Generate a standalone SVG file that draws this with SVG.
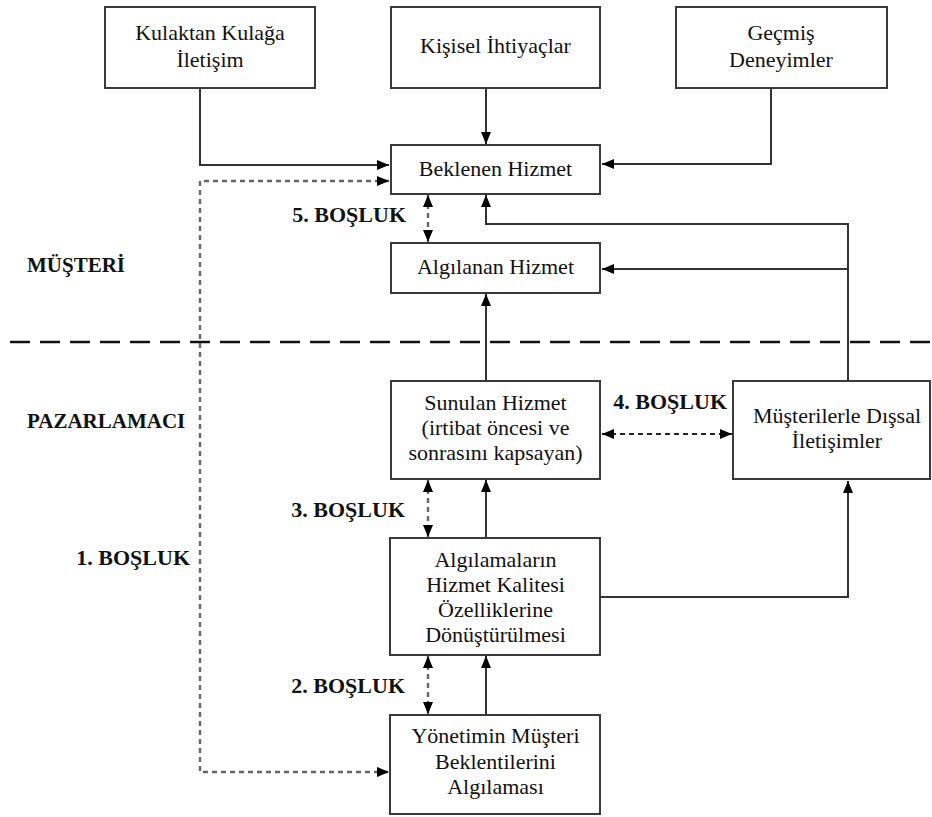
<svg xmlns="http://www.w3.org/2000/svg" width="932" height="817" viewBox="0 0 932 817">
<style>
  .box { fill: #fff; stroke: #3a3a3a; stroke-width: 2; }
  .t { font-family: "Liberation Serif", "Times New Roman", serif; font-size: 22px; fill: #111; text-anchor: middle; }
  .lbl { font-family: "Liberation Serif", "Times New Roman", serif; font-size: 22px; font-weight: bold; fill: #111; }
  .side { font-family: "Liberation Serif", "Times New Roman", serif; font-size: 21px; font-weight: bold; fill: #111; }
  .solid { fill: none; stroke: #333; stroke-width: 2; }
  .dot { fill: none; stroke: #666; stroke-width: 2.4; stroke-dasharray: 5 4; }
  .dash { fill: none; stroke: #222; stroke-width: 1.8; stroke-dasharray: 5 4; }
  .sep { fill: none; stroke: #111; stroke-width: 2.5; stroke-dasharray: 20 10; }
</style>
<defs>
  <marker id="ah" markerUnits="userSpaceOnUse" markerWidth="12" markerHeight="10" refX="12" refY="5" orient="auto-start-reverse">
    <path d="M0,0 L12,5 L0,10 z" fill="#000"/>
  </marker>
</defs>
<rect width="932" height="817" fill="#fff"/>

<g id="connectors">
  <line class="sep" x1="10" y1="342" x2="932" y2="342"/>
  <polyline class="solid" points="200,88 200,165 389,165" marker-end="url(#ah)"/>
  <line class="solid" x1="486" y1="88" x2="486" y2="144" marker-end="url(#ah)"/>
  <polyline class="solid" points="771,88 771,164 602,164" marker-end="url(#ah)"/>
  <polyline class="dot" points="389,181 200,181 200,772 389,772" marker-start="url(#ah)" marker-end="url(#ah)"/>
  <line class="dot" x1="428" y1="195" x2="428" y2="242" marker-start="url(#ah)" marker-end="url(#ah)"/>
  <polyline class="solid" points="848,381 848,224 486,224 486,195" marker-end="url(#ah)"/>
  <line class="solid" x1="848" y1="269" x2="602" y2="269" marker-end="url(#ah)"/>
  <line class="solid" x1="486" y1="381" x2="486" y2="294" marker-end="url(#ah)"/>
  <line class="dash" x1="602" y1="434" x2="732" y2="434" marker-start="url(#ah)" marker-end="url(#ah)"/>
  <line class="dot" x1="428" y1="480" x2="428" y2="537" marker-start="url(#ah)" marker-end="url(#ah)"/>
  <line class="solid" x1="486" y1="538" x2="486" y2="480" marker-end="url(#ah)"/>
  <polyline class="solid" points="601,597 848,597 848,481" marker-end="url(#ah)"/>
  <line class="dot" x1="428" y1="656" x2="428" y2="714" marker-start="url(#ah)" marker-end="url(#ah)"/>
  <line class="solid" x1="486" y1="715" x2="486" y2="656" marker-end="url(#ah)"/>
</g>

<g id="kulaktan">
  <rect class="box" x="105" y="7" width="210" height="81"/>
  <text class="t" x="210" y="40">Kulaktan Kulağa</text>
  <text class="t" x="210" y="67">İletişim</text>
</g>
<g id="kisisel">
  <rect class="box" x="391" y="7" width="209" height="81"/>
  <text class="t" x="495.5" y="53">Kişisel İhtiyaçlar</text>
</g>
<g id="gecmis">
  <rect class="box" x="676" y="7" width="211" height="81"/>
  <text class="t" x="781" y="40">Geçmiş</text>
  <text class="t" x="781" y="67">Deneyimler</text>
</g>
<g id="beklenen">
  <rect class="box" x="391" y="145" width="209" height="49"/>
  <text class="t" x="495.5" y="176">Beklenen Hizmet</text>
</g>
<g id="algilanan">
  <rect class="box" x="391" y="243" width="209" height="50"/>
  <text class="t" x="495.5" y="274">Algılanan Hizmet</text>
</g>
<g id="sunulan">
  <rect class="box" x="391" y="381" width="209" height="98"/>
  <text class="t" x="495.5" y="410">Sunulan Hizmet</text>
  <text class="t" x="495.5" y="435">(irtibat öncesi ve</text>
  <text class="t" x="495.5" y="460">sonrasını kapsayan)</text>
</g>
<g id="musterilerle">
  <rect class="box" x="733" y="381" width="197" height="98"/>
  <text class="t" x="837" y="423">Müşterilerle Dışsal</text>
  <text class="t" x="837" y="448">İletişimler</text>
</g>
<g id="algilamalarin">
  <rect class="box" x="390" y="538" width="210" height="117"/>
  <text class="t" x="495.5" y="567">Algılamaların</text>
  <text class="t" x="495.5" y="592">Hizmet Kalitesi</text>
  <text class="t" x="495.5" y="617">Özelliklerine</text>
  <text class="t" x="495.5" y="642">Dönüştürülmesi</text>
</g>
<g id="yonetimin">
  <rect class="box" x="390" y="715" width="210" height="99"/>
  <text class="t" x="495.5" y="743">Yönetimin Müşteri</text>
  <text class="t" x="495.5" y="769">Beklentilerini</text>
  <text class="t" x="495.5" y="794">Algılaması</text>
</g>

<g id="labels">
  <text class="side" x="27" y="272">MÜŞTERİ</text>
  <text class="side" x="27" y="428">PAZARLAMACI</text>
  <text class="lbl" x="406" y="222" text-anchor="end">5. BOŞLUK</text>
  <text class="lbl" x="727" y="409" text-anchor="end">4. BOŞLUK</text>
  <text class="lbl" x="405" y="517" text-anchor="end">3. BOŞLUK</text>
  <text class="lbl" x="190" y="565" text-anchor="end">1. BOŞLUK</text>
  <text class="lbl" x="405" y="693" text-anchor="end">2. BOŞLUK</text>
</g>
</svg>
